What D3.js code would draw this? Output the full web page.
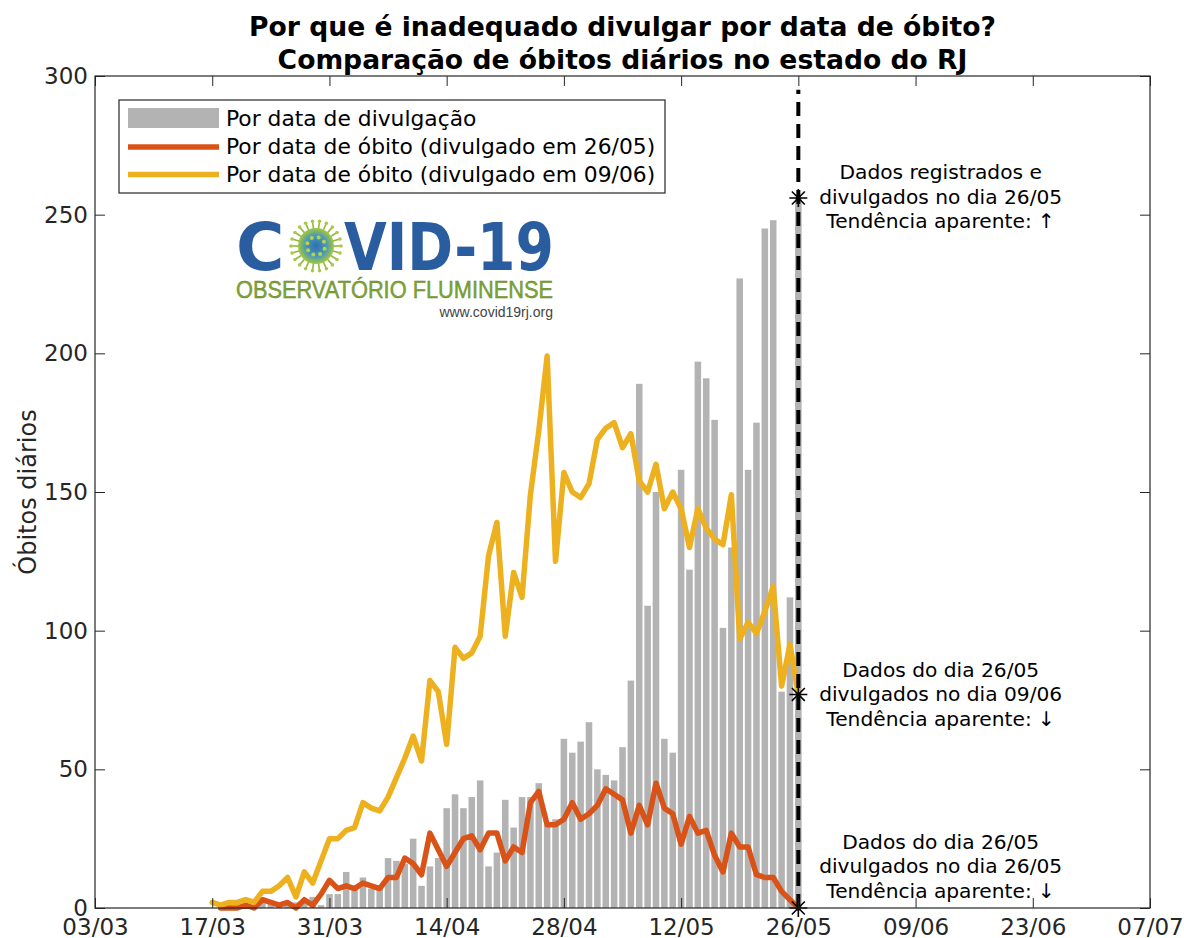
<!DOCTYPE html>
<html>
<head>
<meta charset="utf-8">
<script src="https://cdn.jsdelivr.net/npm/d3@7"></script>
<style>
  body { margin: 0; background: #fff; }
  text { font-family: "DejaVu Sans", sans-serif; }
</style>
</head>
<body>
<div id="wrapper"></div>
<script>

// 1. Data (one value per day)
const barStart = "17/03"      // first day of the bars and of the 09/06 series
const lineStart2605 = "18/03" // first day of the 26/05 series

// óbitos por data de divulgação, 17/03 .. 26/05
const byReport = [
  0, 0, 1, 0, 1, 1, 2, 2, 1, 2,
  2, 3, 4, 1, 5, 5, 13, 8, 11, 7,
  8, 18, 17, 16, 25, 8, 15, 18, 36, 41,
  36, 40, 46, 15, 20, 39, 29, 40, 40, 45,
  30, 32, 61, 56, 60, 67, 50, 48, 46, 58,
  82, 189, 109, 150, 61, 56, 158, 122, 197, 191,
  176, 101, 130, 227, 158, 175, 245, 248, 78, 112,
  256,
]

// óbitos por data de óbito, divulgado em 26/05 (18/03 .. 26/05)
const byDeath2605 = [
  0, 0, 0, 1, 0, 3, 2, 1, 2, 0,
  3, 1, 5, 10, 7, 8, 7, 9, 8, 7,
  11, 11, 18, 16, 12, 27, 21, 15, 20, 25,
  26, 21, 27, 27, 17, 22, 20, 38, 42, 30,
  30, 32, 38, 32, 34, 37, 43, 41, 39, 27,
  37, 30, 45, 36, 34, 23, 33, 27, 28, 19,
  13, 27, 22, 22, 12, 11, 11, 6, 3, 0,
]

// óbitos por data de óbito, divulgado em 09/06 (17/03 .. 26/05)
const byDeath0906 = [
  2, 1, 2, 2, 3, 2, 6, 6, 8, 11,
  4, 13, 9, 17, 25, 25, 28, 29, 38, 36,
  35, 40, 47, 54, 62, 53, 82, 78, 59, 94,
  90, 92, 98, 127, 139, 98, 121, 112, 149, 172,
  199, 125, 157, 150, 148, 153, 169, 173, 175, 166,
  171, 154, 150, 160, 144, 150, 144, 130, 144, 137,
  133, 131, 149, 97, 103, 99, 107, 116, 80, 95,
  77,
]

const xTickLabels = ["03/03", "17/03", "31/03", "14/04", "28/04", "12/05", "26/05", "09/06", "23/06", "07/07"]
const yTickValues = [0, 50, 100, 150, 200, 250, 300]

const cutDay = "26/05"
const markerValues = [256, 77, 0]

const legendLabels = [
  "Por data de divulgação",
  "Por data de óbito (divulgado em 26/05)",
  "Por data de óbito (divulgado em 09/06)",
]

const notes = [
  { value: 254, lines: ["Dados registrados e", "divulgados no dia 26/05", "Tendência aparente: \u2191"] },
  { value: 74.6, lines: ["Dados do dia 26/05", "divulgados no dia 09/06", "Tendência aparente: \u2193"] },
  { value: 12.6, lines: ["Dados do dia 26/05", "divulgados no dia 26/05", "Tendência aparente: \u2193"] },
]
const noteDay = "12/06"

const titleLines = [
  "Por que é inadequado divulgar por data de óbito?",
  "Comparação de óbitos diários no estado do RJ",
]

const parseDay = s => d3.utcParse("%d/%m/%Y")(s + "/2020")
const dayAt = (start, i) => d3.utcDay.offset(parseDay(start), i)

// 2. Dimensions
let dimensions = {
  width: 1184,
  height: 938,
  margin: { top: 76, right: 34, bottom: 30, left: 95 },
}
dimensions.boundedWidth = dimensions.width - dimensions.margin.left - dimensions.margin.right
dimensions.boundedHeight = dimensions.height - dimensions.margin.top - dimensions.margin.bottom

const axisColor = "#262626"
const barColor = "#b3b3b3"
const orange = "#d95319"
const yellow = "#edb120"

const wrapper = d3.select("#wrapper")
  .append("svg")
  .attr("width", dimensions.width)
  .attr("height", dimensions.height)

const bounds = wrapper.append("g")
  .attr("transform", `translate(${dimensions.margin.left},${dimensions.margin.top})`)

// 3. Scales
const xTickDates = xTickLabels.map(parseDay)
const xScale = d3.scaleUtc()
  .domain(d3.extent(xTickDates))
  .range([0, dimensions.boundedWidth])

const yScale = d3.scaleLinear()
  .domain([0, 300])
  .range([dimensions.boundedHeight, 0])

const dayWidth = xScale(d3.utcDay.offset(xTickDates[0], 1)) - xScale(xTickDates[0])
const barWidth = dayWidth * 0.78

// 4. Bars
bounds.append("g")
  .selectAll("rect")
  .data(byReport)
  .join("rect")
    .attr("x", (d, i) => xScale(dayAt(barStart, i)) - barWidth / 2)
    .attr("y", d => yScale(d))
    .attr("width", barWidth)
    .attr("height", d => yScale(0) - yScale(d))
    .attr("fill", barColor)

// 5. Lines
const lineGen = start => d3.line()
  .x((d, i) => xScale(dayAt(start, i)))
  .y(d => yScale(d))

bounds.append("path")
  .attr("d", lineGen(lineStart2605)(byDeath2605))
  .attr("fill", "none")
  .attr("stroke", orange)
  .attr("stroke-width", 5.5)
  .attr("stroke-linejoin", "round")
  .attr("stroke-linecap", "round")

bounds.append("path")
  .attr("d", lineGen(barStart)(byDeath0906))
  .attr("fill", "none")
  .attr("stroke", yellow)
  .attr("stroke-width", 5.5)
  .attr("stroke-linejoin", "round")
  .attr("stroke-linecap", "round")

// dashed cut line at 26/05
const cutX = xScale(parseDay(cutDay))
bounds.append("line")
  .attr("x1", cutX).attr("x2", cutX)
  .attr("y1", yScale(0)).attr("y2", yScale(295))
  .attr("stroke", "black")
  .attr("stroke-width", 4)
  .attr("stroke-dasharray", "14,8")

// asterisk markers
const asterisk = r => {
  const k = r * 0.72
  return `M${-r},0L${r},0M0,${-r}L0,${r}M${-k},${-k}L${k},${k}M${-k},${k}L${k},${-k}`
}
bounds.append("g")
  .selectAll("path")
  .data(markerValues)
  .join("path")
    .attr("transform", d => `translate(${cutX},${yScale(d)})`)
    .attr("d", asterisk(9))
    .attr("stroke", "black")
    .attr("stroke-width", 1.6)
    .attr("fill", "none")

// notes
const noteX = xScale(parseDay(noteDay))
notes.forEach(note => {
  const t = bounds.append("text")
    .attr("text-anchor", "middle")
    .attr("font-size", 20.2)
    .attr("fill", "black")
  note.lines.forEach((line, i) => {
    t.append("tspan")
      .attr("x", noteX)
      .attr("y", yScale(note.value) + (i - 1) * 24.5)
      .text(line)
  })
})

// 6. Axes (box with inward ticks on all sides)
const xAxis = d3.axisBottom(xScale)
  .tickValues(xTickDates)
  .tickFormat(d3.utcFormat("%d/%m"))
  .tickSizeInner(-10)
  .tickSizeOuter(0)
  .tickPadding(11)
const xAxisGroup = bounds.append("g")
  .attr("transform", `translate(0,${dimensions.boundedHeight})`)
  .call(xAxis)

const xAxisTop = bounds.append("g")
  .call(d3.axisTop(xScale).tickValues(xTickDates).tickFormat("").tickSizeInner(-10).tickSizeOuter(0))

const yAxis = d3.axisLeft(yScale)
  .tickValues(yTickValues)
  .tickSizeInner(-10)
  .tickSizeOuter(0)
  .tickPadding(7)
const yAxisGroup = bounds.append("g").call(yAxis)

const yAxisRight = bounds.append("g")
  .attr("transform", `translate(${dimensions.boundedWidth},0)`)
  .call(d3.axisRight(yScale).tickValues(yTickValues).tickFormat("").tickSizeInner(-10).tickSizeOuter(0))

;[xAxisGroup, xAxisTop, yAxisGroup, yAxisRight].forEach(g => {
  g.select(".domain").remove()
  g.selectAll("line").attr("stroke", axisColor)
  g.selectAll("text")
    .attr("fill", axisColor)
    .style("font-family", "DejaVu Sans")
    .style("font-size", "23px")
})

bounds.append("rect")
  .attr("width", dimensions.boundedWidth)
  .attr("height", dimensions.boundedHeight)
  .attr("fill", "none")
  .attr("stroke", axisColor)
  .attr("stroke-width", 1.2)

wrapper.append("text")
  .attr("transform", `translate(36,${dimensions.margin.top + dimensions.boundedHeight / 2}) rotate(-90)`)
  .attr("text-anchor", "middle")
  .attr("font-size", 24)
  .attr("fill", axisColor)
  .text("Óbitos diários")

// 7. Title
wrapper.append("g")
  .selectAll("text")
  .data(titleLines)
  .join("text")
    .attr("x", dimensions.margin.left + dimensions.boundedWidth / 2)
    .attr("y", (d, i) => 36 + i * 33)
    .attr("text-anchor", "middle")
    .attr("font-size", 26.6)
    .attr("font-weight", "bold")
    .attr("fill", "black")
    .text(d => d)

// 8. Legend
const legend = wrapper.append("g").attr("transform", "translate(119,100)")
legend.append("rect")
  .attr("width", 546)
  .attr("height", 93)
  .attr("fill", "white")
  .attr("stroke", axisColor)
  .attr("stroke-width", 1.2)
legend.append("rect")
  .attr("x", 9).attr("y", 8)
  .attr("width", 91).attr("height", 20)
  .attr("fill", barColor)
;[orange, yellow].forEach((c, i) => {
  legend.append("line")
    .attr("x1", 9).attr("x2", 100)
    .attr("y1", 47 + i * 27.5).attr("y2", 47 + i * 27.5)
    .attr("stroke", c)
    .attr("stroke-width", 5.5)
})
legend.selectAll("text.label")
  .data(legendLabels)
  .join("text")
    .attr("class", "label")
    .attr("x", 107)
    .attr("y", (d, i) => 26 + i * 28)
    .attr("font-size", 21.8)
    .attr("fill", "black")
    .text(d => d)

// 9. Logo
const logo = wrapper.append("g").attr("transform", "translate(236,222)")
const blue = "#2a5d9f"
logo.append("text")
  .attr("x", 0).attr("y", 48)
  .attr("font-size", 66)
  .attr("font-weight", "bold")
  .attr("fill", blue)
  .style("font-family", "DejaVu Sans")
  .text("C")
logo.append("text")
  .attr("x", 108).attr("y", 48)
  .attr("font-size", 66)
  .attr("font-weight", "bold")
  .attr("fill", blue)
  .attr("textLength", 210)
  .attr("lengthAdjust", "spacingAndGlyphs")
  .style("font-family", "DejaVu Sans")
  .text("VID-19")

const defs = wrapper.append("defs")
const grad = defs.append("radialGradient").attr("id", "virus")
grad.append("stop").attr("offset", "0%").attr("stop-color", "#2f6fb0")
grad.append("stop").attr("offset", "60%").attr("stop-color", "#4b9bb5")
grad.append("stop").attr("offset", "100%").attr("stop-color", "#a6c83a")

const virus = logo.append("g").attr("transform", "translate(80,24)")
d3.range(22).forEach(i => {
  const a = (i / 22) * 2 * Math.PI
  virus.append("line")
    .attr("x1", Math.cos(a) * 15).attr("y1", Math.sin(a) * 15)
    .attr("x2", Math.cos(a) * 25).attr("y2", Math.sin(a) * 25)
    .attr("stroke", "#8fb83a")
    .attr("stroke-width", 1.6)
  virus.append("circle")
    .attr("cx", Math.cos(a) * 25).attr("cy", Math.sin(a) * 25)
    .attr("r", 1.8)
    .attr("fill", "#a9c94a")
})
virus.append("circle").attr("r", 18).attr("fill", "url(#virus)")
d3.range(8).forEach(i => {
  const a = (i / 8) * 2 * Math.PI + 0.3
  virus.append("circle")
    .attr("cx", Math.cos(a) * 9).attr("cy", Math.sin(a) * 9)
    .attr("r", 2)
    .attr("fill", "#b7d34c")
})

logo.append("text")
  .attr("x", 0).attr("y", 76)
  .attr("font-size", 23)
  .attr("fill", "#7ea536")
  .attr("stroke", "#5d7f25")
  .attr("stroke-width", 0.4)
  .attr("textLength", 317)
  .attr("lengthAdjust", "spacingAndGlyphs")
  .style("font-family", "Liberation Sans")
  .text("OBSERVATÓRIO FLUMINENSE")
logo.append("text")
  .attr("x", 317).attr("y", 95)
  .attr("text-anchor", "end")
  .attr("font-size", 14)
  .attr("fill", "#444")
  .style("font-family", "Liberation Sans")
  .text("www.covid19rj.org")

</script>
</body>
</html>
